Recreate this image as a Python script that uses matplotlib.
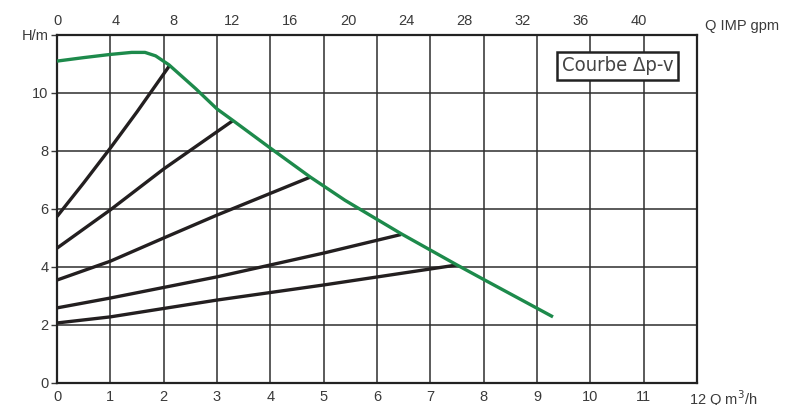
import matplotlib
matplotlib.use('Agg')
import matplotlib.pyplot as plt
from matplotlib.ticker import MultipleLocator

# Delta p-v characteristic (green), Q in m3/h, H in m
curve_q = [0.0, 0.5, 1.0, 1.4, 1.65, 1.85, 2.1, 2.6, 3.0, 3.3, 4.0, 4.75, 5.4, 6.45, 7.5, 8.0, 9.3]
curve_h = [11.1, 11.22, 11.33, 11.4, 11.4, 11.28, 10.97, 10.15, 9.45, 9.05, 8.1, 7.1, 6.3, 5.15, 4.07, 3.57, 2.28]

# system curves (black), one list pair per curve
sys1_q = [0.0, 0.5, 1.0, 1.5, 2.12]
sys1_h = [5.74, 6.9, 8.1, 9.35, 10.97]
sys2_q = [0.0, 1.0, 2.0, 3.3]
sys2_h = [4.65, 5.97, 7.38, 9.05]
sys3_q = [0.0, 1.0, 2.0, 3.0, 4.75]
sys3_h = [3.55, 4.2, 5.0, 5.79, 7.1]
sys4_q = [0.0, 1.0, 3.0, 5.0, 6.45]
sys4_h = [2.59, 2.93, 3.66, 4.48, 5.12]
sys5_q = [0.0, 1.0, 3.0, 5.0, 7.5]
sys5_h = [2.07, 2.28, 2.86, 3.38, 4.07]

x_ticks = list(range(0, 12))
y_ticks = [0, 2, 4, 6, 8, 10]
gpm_ticks = [0, 4, 8, 12, 16, 20, 24, 28, 32, 36, 40]
M3H_PER_IMP_GPM = 0.2728

plt.rcParams['font.family'] = ['Liberation Sans', 'DejaVu Sans']

fig = plt.figure(figsize=(7.93, 4.05), dpi=100)
ax = fig.add_axes([57 / 793, 1 - 383 / 405, 640 / 793, 348 / 405])

txt_color = '#3a3a3a'
grid_color = '#2e2e2e'

ax.set_xlim(0, 12)
ax.set_ylim(0, 12)
ax.xaxis.set_major_locator(MultipleLocator(1))
ax.yaxis.set_major_locator(MultipleLocator(2))
ax.grid(True, color=grid_color, linewidth=1.1)
ax.set_axisbelow(True)
for s in ax.spines.values():
    s.set_color('#222222')
    s.set_linewidth(1.6)

ax.set_xticks(x_ticks + [12])
ax.set_xticklabels([str(v) for v in x_ticks] + [''])
ax.set_yticks(y_ticks + [12])
ax.set_yticklabels([str(v) for v in y_ticks] + ['H/m'])
ax.tick_params(axis='x', length=0, pad=5, labelsize=10.5, colors=txt_color)
ax.tick_params(axis='y', length=4, width=1, pad=2, labelsize=10.5, colors=txt_color)
ax.annotate('12 Q m$^3$/h', xy=(12, 0), xycoords='data', xytext=(-6, -16),
            textcoords='offset points', ha='left', va='baseline',
            fontsize=10.5, color=txt_color, annotation_clip=False)

# top axis in imperial gpm
top = ax.secondary_xaxis('top', functions=(lambda q: q / M3H_PER_IMP_GPM,
                                            lambda g: g * M3H_PER_IMP_GPM))
top.set_xticks(gpm_ticks)
top.tick_params(length=0, pad=5, labelsize=10.5, colors=txt_color)
top.spines['top'].set_visible(False)
fig.text(705 / 793, 1 - 26 / 405, 'Q IMP gpm', fontsize=10.5, color=txt_color,
         ha='left', va='center')

lw = 2.4
for q, h in [(sys1_q, sys1_h), (sys2_q, sys2_h), (sys3_q, sys3_h),
             (sys4_q, sys4_h), (sys5_q, sys5_h)]:
    ax.plot(q, h, color='#231f20', linewidth=lw, solid_capstyle='butt', zorder=3)
ax.plot(curve_q, curve_h, color='#1d8a4b', linewidth=lw, solid_capstyle='butt', zorder=4)

ax.text(0.963, 0.912, 'Courbe \u0394p-v', transform=ax.transAxes, ha='right', va='center',
        fontsize=14.5, color='#444444', family='DejaVu Sans', fontstretch='condensed',
        bbox=dict(boxstyle='square,pad=0.22', facecolor='white', edgecolor='#222222',
                  linewidth=1.8), zorder=5)

fig.savefig('out.png', dpi=100)
